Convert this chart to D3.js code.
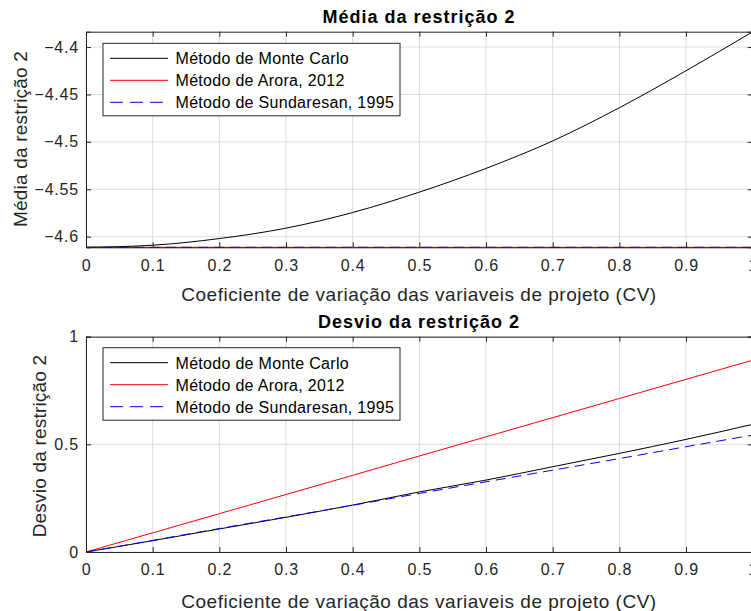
<!DOCTYPE html>
<html>
<head>
<meta charset="utf-8">
<script src="https://cdn.jsdelivr.net/npm/d3@7"></script>
<style>
  body { margin: 0; background: #fff; }
  svg { font-family: "Liberation Sans", Arial, sans-serif; }
</style>
</head>
<body>
<div class="board"></div>
<script>
// CV values (x), same for every series
var cv = [0, 0.1, 0.2, 0.3, 0.4, 0.5, 0.6, 0.7, 0.8, 0.9, 1.0];

// mean of constraint 2
var meanMonteCarlo = [-4.6112, -4.6090, -4.6020, -4.5910, -4.5745, -4.5530, -4.5280, -4.4990, -4.4640, -4.4250, -4.3838];
var meanArora      = [-4.6112, -4.6112, -4.6112, -4.6112, -4.6112, -4.6112, -4.6112, -4.6112, -4.6112, -4.6112, -4.6112];
var meanSundaresan = [-4.6112, -4.6112, -4.6112, -4.6112, -4.6112, -4.6112, -4.6112, -4.6112, -4.6112, -4.6112, -4.6112];

// std deviation of constraint 2
var stdMonteCarlo = [0, 0.0525, 0.107, 0.161, 0.218, 0.279, 0.334, 0.396, 0.458, 0.523, 0.593];
var stdArora      = [0, 0.089, 0.178, 0.267, 0.356, 0.446, 0.535, 0.624, 0.713, 0.802, 0.891];
var stdSundaresan = [0, 0.054, 0.109, 0.163, 0.217, 0.272, 0.326, 0.380, 0.434, 0.489, 0.543];

var xTicks = [0, 0.1, 0.2, 0.3, 0.4, 0.5, 0.6, 0.7, 0.8, 0.9, 1];
var meanTicks = [-4.6, -4.55, -4.5, -4.45, -4.4];
var stdTicks = [0, 0.5, 1];
var legendNames = ["Método de Monte Carlo", "Método de Arora, 2012", "Método de Sundaresan, 1995"];

var W = 751, H = 611;
var axisColor = "#262626";

var svg = d3.select(".board").append("svg")
  .attr("width", W)
  .attr("height", H);

function drawPanel(opt) {
  var x = d3.scaleLinear().domain([0, 1]).range([86, 752.7]);
  var y = d3.scaleLinear().domain(opt.yDomain).range([opt.bottom, opt.top]);
  var g = svg.append("g");

  // grid
  g.selectAll(".vgrid").data(xTicks).enter().append("line")
    .attr("x1", function(d) { return x(d); }).attr("x2", function(d) { return x(d); })
    .attr("y1", opt.top).attr("y2", opt.bottom)
    .attr("stroke", "#dcdcdc").attr("stroke-width", 1);
  g.selectAll(".hgrid").data(opt.yTicks).enter().append("line")
    .attr("x1", x(0)).attr("x2", x(1))
    .attr("y1", function(d) { return y(d); }).attr("y2", function(d) { return y(d); })
    .attr("stroke", "#dcdcdc").attr("stroke-width", 1);

  // series
  var line = d3.line()
    .x(function(d) { return x(d[0]); })
    .y(function(d) { return y(d[1]); })
    .curve(d3.curveMonotoneX);
  var order = [
    {vals: opt.series[1], color: "#ff0000", dash: null},
    {vals: opt.series[0], color: "#000000", dash: null},
    {vals: opt.series[2], color: "#0000ff", dash: "10,6"}
  ];
  order.forEach(function(s) {
    g.append("path")
      .datum(d3.zip(cv, s.vals))
      .attr("d", line)
      .attr("fill", "none")
      .attr("stroke", s.color)
      .attr("stroke-width", 1)
      .attr("stroke-dasharray", s.dash);
  });

  // axes (box with inward ticks)
  var bottomAxis = d3.axisBottom(x).tickValues(xTicks).tickSize(-5).tickPadding(12)
    .tickFormat(function(d) { return d3.format("")(d); });
  var gb = g.append("g").attr("transform", "translate(0," + opt.bottom + ")").call(bottomAxis);
  var topAxis = d3.axisTop(x).tickValues(xTicks).tickSize(-5).tickFormat("");
  var gt = g.append("g").attr("transform", "translate(0," + opt.top + ")").call(topAxis);
  var leftAxis = d3.axisLeft(y).tickValues(opt.yTicks).tickSize(-5).tickPadding(7)
    .tickFormat(function(d) { return d3.format("")(d); });
  var gl = g.append("g").attr("transform", "translate(" + x(0) + ",0)").call(leftAxis);
  var rightAxis = d3.axisRight(y).tickValues(opt.yTicks).tickSize(-5).tickFormat("");
  var gr = g.append("g").attr("transform", "translate(" + x(1) + ",0)").call(rightAxis);

  [gb, gt, gl, gr].forEach(function(a) {
    a.select(".domain").attr("stroke", axisColor).attr("stroke-width", 1);
    a.selectAll(".tick line").attr("stroke", axisColor);
    a.selectAll(".tick text").attr("fill", axisColor).attr("font-size", 16)
      .attr("letter-spacing", 0.8)
      .attr("font-family", "Liberation Sans, Arial, sans-serif");
  });

  // title
  g.append("text")
    .attr("x", 419).attr("y", opt.titleY)
    .attr("text-anchor", "middle")
    .attr("font-weight", "bold")
    .attr("font-size", 18)
    .attr("letter-spacing", 1)
    .attr("fill", "#000")
    .text(opt.title);

  // x label
  g.append("text")
    .attr("x", 419).attr("y", opt.xLabelY)
    .attr("text-anchor", "middle")
    .attr("font-size", 19)
    .attr("letter-spacing", 0.5)
    .attr("fill", axisColor)
    .text("Coeficiente de variação das variaveis de projeto (CV)");

  // y label
  g.append("text")
    .attr("transform", "translate(" + opt.yLabelX + "," + opt.yLabelMid + ") rotate(-90)")
    .attr("text-anchor", "middle")
    .attr("font-size", 19)
    .attr("letter-spacing", 0.2)
    .attr("fill", axisColor)
    .text(opt.yLabel);

  // legend
  var lg = g.append("g").attr("transform", "translate(103," + opt.legendTop + ")");
  lg.append("rect")
    .attr("width", 297).attr("height", 72.5)
    .attr("fill", "#fff")
    .attr("stroke", axisColor).attr("stroke-width", 1);
  var legendStyle = [
    {color: "#000000", dash: null},
    {color: "#ff0000", dash: null},
    {color: "#0000ff", dash: "13,7"}
  ];
  legendNames.forEach(function(name, i) {
    var cy = 15 + i * 22;
    lg.append("line")
      .attr("x1", 7).attr("x2", 65)
      .attr("y1", cy).attr("y2", cy)
      .attr("stroke", legendStyle[i].color)
      .attr("stroke-width", 1)
      .attr("stroke-dasharray", legendStyle[i].dash);
    lg.append("text")
      .attr("x", 72.5).attr("y", cy + 6)
      .attr("font-size", 16)
      .attr("letter-spacing", 0.3)
      .attr("fill", "#000")
      .text(name);
  });
}

drawPanel({
  top: 31.7, bottom: 247.3,
  yDomain: [-4.6112, -4.3838],
  yTicks: meanTicks,
  series: [meanMonteCarlo, meanArora, meanSundaresan],
  title: "Média da restrição 2",
  titleY: 23,
  xLabelY: 301,
  yLabel: "Média da restrição 2",
  yLabelX: 27,
  yLabelMid: 139,
  legendTop: 43.3
});

drawPanel({
  top: 336.7, bottom: 552,
  yDomain: [0, 1],
  yTicks: stdTicks,
  series: [stdMonteCarlo, stdArora, stdSundaresan],
  title: "Desvio da restrição 2",
  titleY: 328,
  xLabelY: 608,
  yLabel: "Desvio da restrição 2",
  yLabelX: 46,
  yLabelMid: 446,
  legendTop: 347.7
});
</script>
</body>
</html>
